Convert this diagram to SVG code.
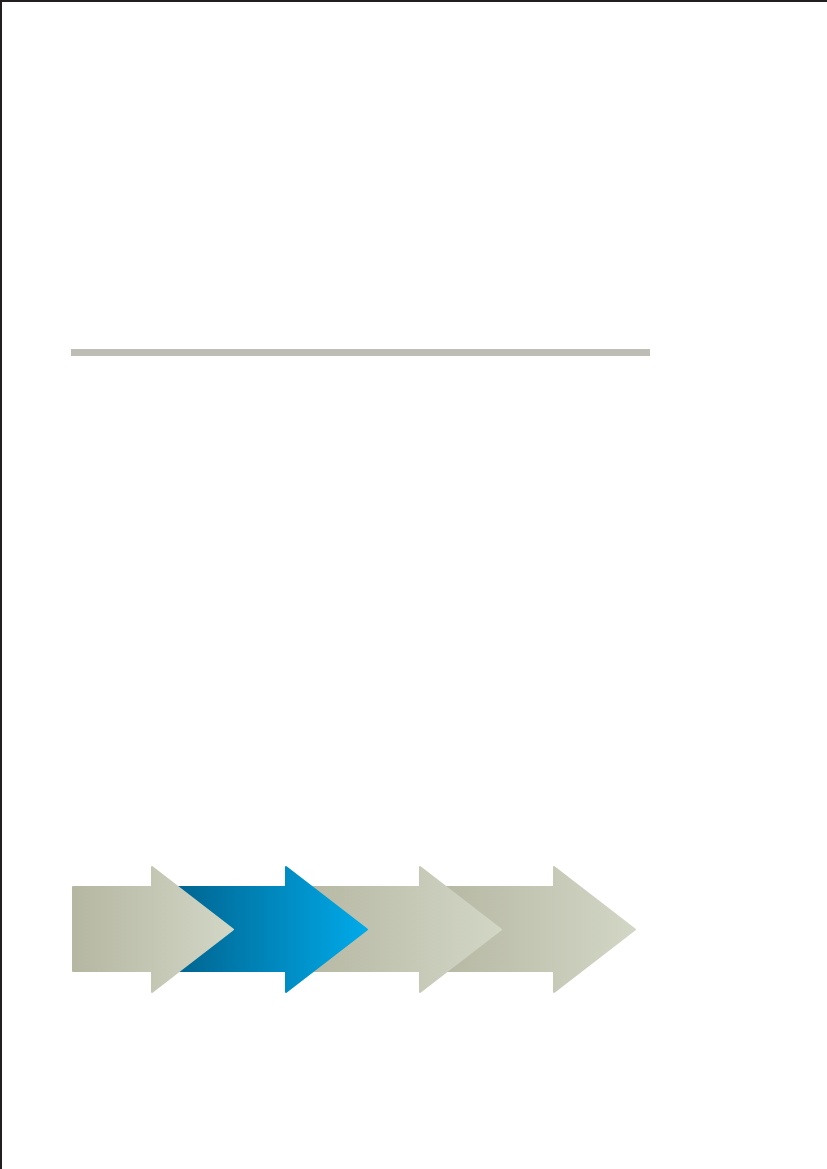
<svg xmlns="http://www.w3.org/2000/svg" width="827" height="1169" viewBox="0 0 827 1169">
  <style>
    .arrow { stroke-width: 2; stroke-linejoin: round; }
    .grey { fill: url(#gGrey); stroke: url(#gGrey); }
    .blue { fill: url(#gBlue); stroke: url(#gBlue); }
  </style>
  <defs>
    <linearGradient id="gGrey" x1="0" y1="0" x2="1" y2="0">
      <stop offset="0" stop-color="#b5b7a2"/>
      <stop offset="1" stop-color="#d2d6c5"/>
    </linearGradient>
    <linearGradient id="gBlue" x1="0" y1="0" x2="1" y2="0">
      <stop offset="0" stop-color="#00608a"/>
      <stop offset="1" stop-color="#00aae9"/>
    </linearGradient>
    <path id="arrowShape" d="M73,887 L152,887 L152,867 L233,929.5 L152,992 L152,971 L73,971 Z"/>
    <path id="arrowShapeLong" d="M30,887 L152,887 L152,867 L233,929.5 L152,992 L152,971 L30,971 Z"/>
  </defs>
  <rect x="0" y="0" width="827" height="1169" fill="#ffffff"/>
  <g id="frame">
    <line x1="0" y1="1" x2="827" y2="1" stroke="#231f20" stroke-width="2"/>
    <line x1="1" y1="0" x2="1" y2="1169" stroke="#231f20" stroke-width="2"/>
  </g>
  <g id="rule">
    <rect x="71" y="349" width="579" height="7" fill="#bebdb5"/>
  </g>
  <g id="arrow4"><use href="#arrowShapeLong" class="arrow grey" transform="translate(402,0)"/></g>
  <g id="arrow3"><use href="#arrowShapeLong" class="arrow grey" transform="translate(268,0)"/></g>
  <g id="arrow2"><use href="#arrowShapeLong" class="arrow blue" transform="translate(134,0)"/></g>
  <g id="arrow1"><use href="#arrowShape" class="arrow grey"/></g>
  <g id="connectors"></g>
</svg>
